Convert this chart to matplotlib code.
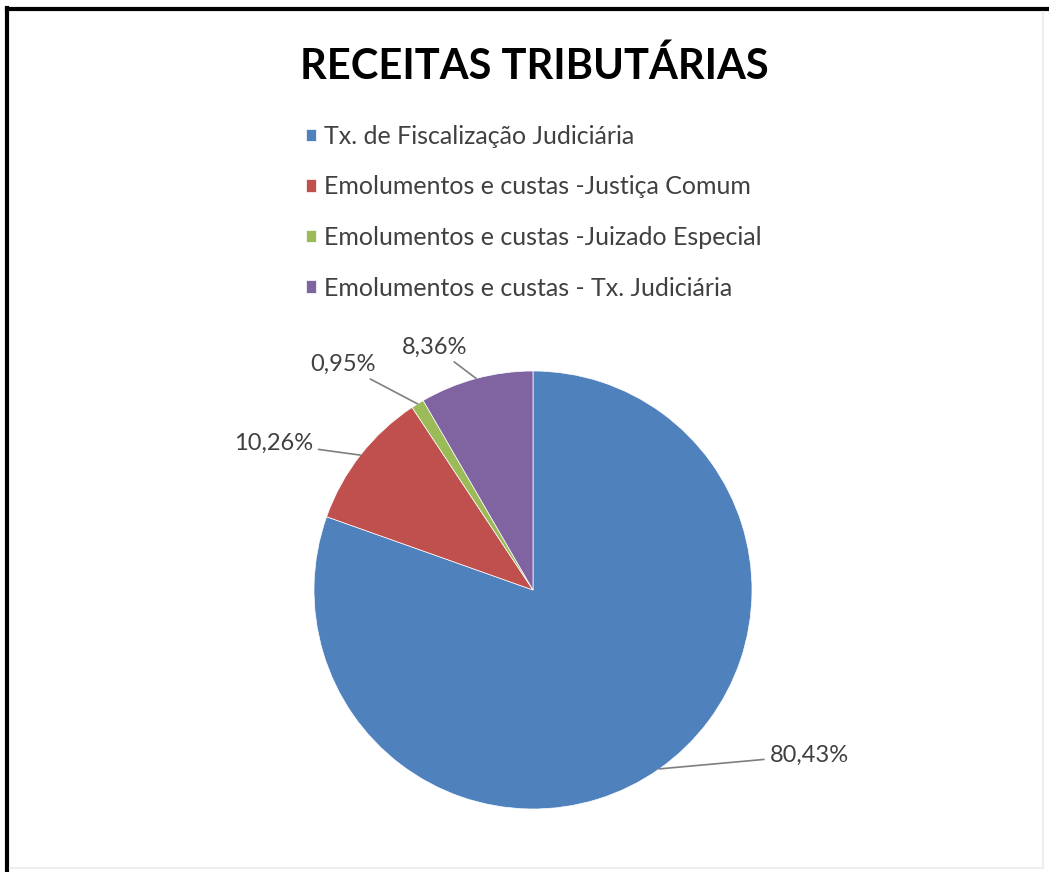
import matplotlib.pyplot as plt
from matplotlib.lines import Line2D
import numpy as np

plt.rcParams['font.family'] = ['Lato', 'DejaVu Sans']

# data
categorias = ['Tx. de Fiscalização Judiciária',
              'Emolumentos e custas -Justiça Comum',
              'Emolumentos e custas -Juizado Especial',
              'Emolumentos e custas - Tx. Judiciária']
percentuais = [80.43, 10.26, 0.95, 8.36]
rotulos = ['80,43%', '10,26%', '0,95%', '8,36%']

cores = ['#4F81BD', '#C0504D', '#9BBB59', '#8064A2']
# label text positions (data coords of the pie axes) and alignment
pos_rotulos = [(1.08, -0.755), (-1.005, 0.67), (-0.72, 1.03), (-0.45, 1.11)]
alinh = ['left', 'right', 'right', 'center']

fig = plt.figure(figsize=(10.49, 8.72), dpi=100)
W, H = 1049, 872

# pie centred at (533, 590) px, radius 219 px
cx, cy, r = 533, 590, 219
ax = fig.add_axes([(cx - r) / W, (H - cy - r) / H, 2 * r / W, 2 * r / H])

wedges, _ = ax.pie(percentuais, colors=cores, startangle=90, counterclock=False,
                   radius=1, wedgeprops=dict(linewidth=0.5, edgecolor='white'))
ax.set_xlim(-1, 1)
ax.set_ylim(-1, 1)
ax.set_aspect('equal')
ax.axis('off')

for w, txt, (tx, ty), ha in zip(wedges, rotulos, pos_rotulos, alinh):
    ang = np.deg2rad((w.theta1 + w.theta2) / 2)
    ex, ey = np.cos(ang), np.sin(ang)
    ax.annotate(txt, xy=(ex, ey), xytext=(tx, ty), ha=ha, va='center',
                fontsize=17, color='#404040',
                arrowprops=dict(arrowstyle='-', color='#7f7f7f', lw=1.2,
                                shrinkA=2, shrinkB=0),
                annotation_clip=False)

fig.text(534 / W, (H - 66) / H, 'RECEITAS TRIBUTÁRIAS', ha='center', va='center',
         fontsize=30, fontweight='bold', color='black')

leg = fig.legend(wedges, categorias, loc='upper left',
                 bbox_to_anchor=(306 / W, (H - 125) / H), frameon=False,
                 fontsize=18, handlelength=0.4, handleheight=0.4,
                 handletextpad=0.3, labelspacing=1.1, borderpad=0,
                 borderaxespad=0)
for t in leg.get_texts():
    t.set_color('#404040')

# frame of the screenshot
fig.add_artist(Line2D([7 / W, 7 / W], [0, 1 - 8 / H], color='black', lw=3,
                      transform=fig.transFigure))
fig.add_artist(Line2D([7 / W, 1], [1 - 9 / H, 1 - 9 / H], color='black', lw=3,
                      transform=fig.transFigure))
fig.add_artist(Line2D([1 - 6 / W, 1 - 6 / W], [4 / H, 1 - 12 / H], color='#eeeeee',
                      lw=1.5, transform=fig.transFigure))
fig.add_artist(Line2D([10 / W, 1 - 6 / W], [4 / H, 4 / H], color='#eeeeee',
                      lw=1.5, transform=fig.transFigure))

fig.savefig('out.png', dpi=100)
